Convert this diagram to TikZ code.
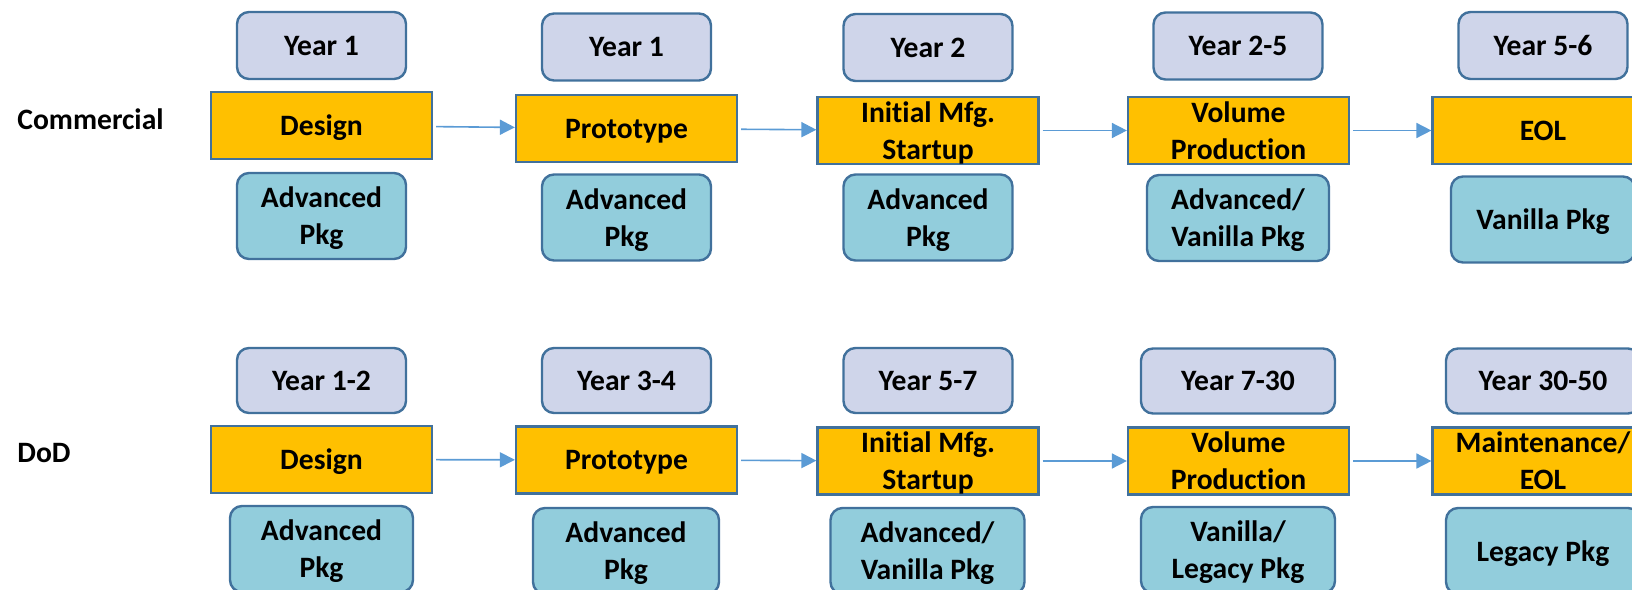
\documentclass[tikz,border=0pt]{standalone}
\usepackage{fontspec}
\setmainfont{Carlito}[Ligatures=NoCommon]
\usetikzlibrary{arrows.meta,positioning}
\definecolor{yearfill}{HTML}{CFD5EA}
\definecolor{stagefill}{HTML}{FFC000}
\definecolor{pkgfill}{HTML}{92CDDC}
\definecolor{boxline}{HTML}{41719C}
\definecolor{flowline}{HTML}{5B9BD5}
\begin{document}
\begin{tikzpicture}[x=0.5pt,y=-0.5pt,
    font=\fontsize{14.8}{18.4}\selectfont\bfseries,
    boxtext/.style={inner sep=0pt,align=center,text depth=0pt},
    yearbox/.style={boxtext,draw=boxline,line width=1.2pt,fill=yearfill,rounded corners=6pt,minimum width=84.5pt,minimum height=33.5pt},
    stagebox/.style={boxtext,draw=boxline,line width=1.1pt,fill=stagefill,minimum width=110.5pt,minimum height=33.5pt},
    pkgbox/.style={boxtext,draw=boxline,line width=1.2pt,fill=pkgfill,rounded corners=6pt,minimum width=84.5pt,minimum height=43pt},
    flow/.style={draw=flowline,line width=0.8pt,-{Triangle[length=7.5pt,width=7.5pt]},shorten <=1.5pt},
    rowlabel/.style={anchor=west,inner sep=0pt}]
    \useasboundingbox (0,0) rectangle (1632,589);
    \clip (0,0) rectangle (1632,589);
    % row labels
    \node[rowlabel] (commercial) at (17,119) {Commercial};
    \node[rowlabel] (dod) at (17,453) {DoD};
    % commercial
    \node[yearbox] (y11) at (321.5,45.5) {Year 1};
    \node[stagebox] (s11) at (321.5,125.5) {Design};
    \node[pkgbox] (p11) at (321.5,216) {Advanced\\Pkg};
    \node[yearbox] (y12) at (626.5,47) {Year 1};
    \node[stagebox] (s12) at (626.5,128.5) {Prototype};
    \node[pkgbox] (p12) at (626.5,217.5) {Advanced\\Pkg};
    \node[yearbox] (y13) at (928,47.5) {Year 2};
    \node[stagebox] (s13) at (928,130.5) {Initial Mfg.\\Startup};
    \node[pkgbox] (p13) at (928,217.5) {Advanced\\Pkg};
    \node[yearbox] (y14) at (1238,46) {Year 2-5};
    \node[stagebox] (s14) at (1238.5,130.5) {Volume\\Production};
    \node[pkgbox,minimum width=91pt] (p14) at (1238,218) {Advanced/\\Vanilla Pkg};
    \node[yearbox] (y15) at (1543,45.5) {Year 5-6};
    \node[stagebox] (s15) at (1543,130.5) {EOL};
    \node[pkgbox,minimum width=92pt] (p15) at (1543,219.5) {Vanilla Pkg};
    % dod
    \node[yearbox,minimum height=32.5pt] (y21) at (321.5,380.5) {Year 1-2};
    \node[stagebox] (s21) at (321.5,459.5) {Design};
    \node[pkgbox,minimum width=91.5pt] (p21) at (321.5,549) {Advanced\\Pkg};
    \node[yearbox,minimum height=32.5pt] (y22) at (626.5,380.5) {Year 3-4};
    \node[stagebox] (s22) at (626.5,460) {Prototype};
    \node[pkgbox,minimum width=93pt] (p22) at (626,551) {Advanced\\Pkg};
    \node[yearbox,minimum height=32.5pt] (y23) at (928,380.5) {Year 5-7};
    \node[stagebox] (s23) at (928,461) {Initial Mfg.\\Startup};
    \node[pkgbox,minimum width=97pt] (p23) at (927.5,551) {Advanced/\\Vanilla Pkg};
    \node[yearbox,minimum width=97pt,minimum height=32.5pt] (y24) at (1238,381) {Year 7-30};
    \node[stagebox] (s24) at (1238.5,461) {Volume\\Production};
    \node[pkgbox,minimum width=97pt] (p24) at (1238,550) {Vanilla/\\Legacy Pkg};
    \node[yearbox,minimum width=97pt,minimum height=32.5pt] (y25) at (1543,381) {Year 30-50};
    \node[stagebox] (s25) at (1543,461) {Maintenance/\\EOL};
    \node[pkgbox,minimum width=97pt] (p25) at (1543,551) {Legacy Pkg};
    % stage flow
    \foreach \r in {1,2}
        \foreach \a/\b in {1/2,2/3,3/4,4/5}
            \draw[flow] (s\r\a) -- (s\r\b);
\end{tikzpicture}
\end{document}
